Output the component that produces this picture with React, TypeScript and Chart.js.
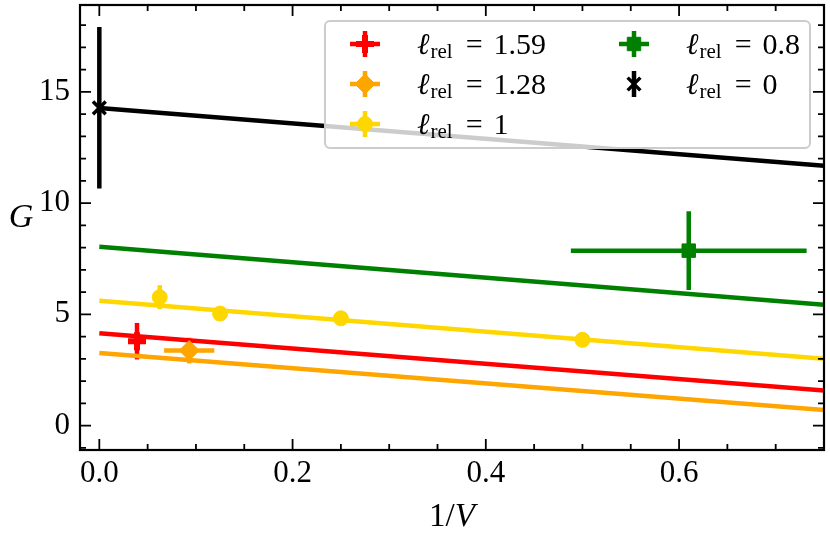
import { useEffect, useRef } from "react";
import { Chart, registerables } from "chart.js";
import { drawPoint } from "chart.js/helpers";

Chart.register(...registerables);

// axis ticks
const xMajorTicks = [0, 0.2, 0.4, 0.6];
const yMajorTicks = [0, 5, 10, 15];

// fitted lines (value at 1/V = 0 and at the right edge)
const fitX = [0, 0.75];
const fitRed = [4.15, 1.57];
const fitOrange = [3.26, 0.7];
const fitYellow = [5.61, 3.0];
const fitGreen = [8.04, 5.43];
const fitBlack = [14.27, 11.67];

// measured points with errors
const redX = [0.039];
const redY = [3.79];
const redXErr = [0.009];
const redYErr = [0.82];

const orangeX = [0.093];
const orangeY = [3.37];
const orangeXErr = [0.026];
const orangeYErr = [0.58];

const yellowX = [0.0625, 0.125, 0.25, 0.5];
const yellowY = [5.77, 5.03, 4.82, 3.85];
const yellowXErr = [0, 0, 0, 0];
const yellowYErr = [0.54, 0.1, 0.1, 0.1];

const greenX = [0.61];
const greenY = [7.86];
const greenXErr = [0.122];
const greenYErr = [1.77];

const blackX = [0];
const blackY = [14.28];
const blackYErr = [3.63];

const legendValues = ["1.59", "1.28", "1", "0.8", "0"];

const SERIF = "'Liberation Serif', 'DejaVu Serif', serif";
const RED = "#ff0000";
const ORANGE = "#ffa500";
const YELLOW = "#ffd700";
const GREEN = "#008000";
const BLACK = "#000000";

type Marker = { style: string; radius: number; border: number };

const markers: Marker[] = [
  { style: "cross", radius: 9, border: 6 },
  { style: "rectRot", radius: 10, border: 1 },
  { style: "circle", radius: 7.5, border: 1 },
  { style: "rect", radius: 9.5, border: 1 },
  { style: "crossRot", radius: 9, border: 3.5 },
];
const colors = [RED, ORANGE, YELLOW, GREEN, BLACK];

function toPoints(xs: number[], ys: number[]) {
  return xs.map((x, i) => ({ x, y: ys[i] }));
}

const errorBars = {
  id: "errorBars",
  beforeDatasetsDraw(chart: any) {
    const { ctx, scales } = chart;
    ctx.save();
    chart.data.datasets.forEach((ds: any) => {
      if (!ds.yErr) return;
      ctx.strokeStyle = ds.borderColor;
      ctx.lineWidth = 4.5;
      ds.data.forEach((p: any, j: number) => {
        const px = scales.x.getPixelForValue(p.x);
        const py = scales.y.getPixelForValue(p.y);
        const ye = ds.yErr[j];
        ctx.beginPath();
        ctx.moveTo(px, scales.y.getPixelForValue(p.y + ye));
        ctx.lineTo(px, scales.y.getPixelForValue(p.y - ye));
        ctx.stroke();
        if (ds.xErr && ds.xErr[j] > 0) {
          const xe = ds.xErr[j];
          ctx.beginPath();
          ctx.moveTo(scales.x.getPixelForValue(p.x - xe), py);
          ctx.lineTo(scales.x.getPixelForValue(p.x + xe), py);
          ctx.stroke();
        }
      });
    });
    ctx.restore();
  },
};

const frame = {
  id: "frame",
  afterDatasetsDraw(chart: any) {
    const { ctx, chartArea: a, scales } = chart;
    ctx.save();
    ctx.strokeStyle = "#000";
    ctx.lineWidth = 1.8;
    const tick = (v: number, len: number, axis: "x" | "y") => {
      ctx.beginPath();
      if (axis === "x") {
        const px = scales.x.getPixelForValue(v);
        ctx.moveTo(px, a.bottom);
        ctx.lineTo(px, a.bottom - len);
        ctx.moveTo(px, a.top);
        ctx.lineTo(px, a.top + len);
      } else {
        const py = scales.y.getPixelForValue(v);
        ctx.moveTo(a.left, py);
        ctx.lineTo(a.left + len, py);
        ctx.moveTo(a.right, py);
        ctx.lineTo(a.right - len, py);
      }
      ctx.stroke();
    };
    for (let i = 0; i <= 15; i++) tick(i * 0.05, i % 4 === 0 ? 11 : 6, "x");
    for (let v = -1; v <= 18; v++) tick(v, v % 5 === 0 ? 11 : 6, "y");
    ctx.lineWidth = 2.2;
    ctx.strokeRect(a.left, a.top, a.right - a.left, a.bottom - a.top);

    // axis titles
    ctx.fillStyle = "#000";
    ctx.textBaseline = "middle";
    ctx.textAlign = "center";
    ctx.font = `italic 34px ${SERIF}`;
    ctx.fillText("G", 21, 218);
    ctx.textAlign = "left";
    ctx.font = `33px ${SERIF}`;
    const w1 = ctx.measureText("1/").width;
    ctx.font = `italic 33px ${SERIF}`;
    const w2 = ctx.measureText("V").width;
    const sx = (a.left + a.right) / 2 - (w1 + w2) / 2;
    ctx.font = `33px ${SERIF}`;
    ctx.fillText("1/", sx, 517);
    ctx.font = `italic 33px ${SERIF}`;
    ctx.fillText("V", sx + w1, 517);
    ctx.restore();
  },
  afterDraw(chart: any) {
    const { ctx } = chart;
    ctx.save();
    ctx.beginPath();
    ctx.roundRect(325, 21, 485, 127, 5);
    ctx.fillStyle = "rgba(255,255,255,0.8)";
    ctx.fill();
    ctx.strokeStyle = "#cccccc";
    ctx.lineWidth = 2;
    ctx.stroke();

    const slots = [
      [365, 417, 44],
      [365, 417, 84],
      [365, 417, 124],
      [634, 686, 44],
      [634, 686, 84],
    ];
    legendValues.forEach((val, i) => {
      const [mx, tx, ry] = slots[i];
      const c = colors[i];
      ctx.strokeStyle = c;
      ctx.lineWidth = 4.5;
      ctx.beginPath();
      ctx.moveTo(mx, ry - 13);
      ctx.lineTo(mx, ry + 13);
      if (i !== 4) {
        ctx.moveTo(mx - 15, ry);
        ctx.lineTo(mx + 15, ry);
      }
      ctx.stroke();
      const m = markers[i];
      ctx.fillStyle = c;
      ctx.lineWidth = m.border;
      drawPoint(ctx, { pointStyle: m.style as any, radius: m.radius, rotation: 0, borderWidth: m.border }, mx, ry);

      ctx.fillStyle = "#000";
      ctx.textBaseline = "alphabetic";
      ctx.textAlign = "left";
      let x = tx;
      ctx.font = `italic 30px ${SERIF}`;
      ctx.fillText("\u2113", x, ry + 10);
      x += ctx.measureText("\u2113").width + 1;
      ctx.font = `21px ${SERIF}`;
      ctx.fillText("rel", x, ry + 14);
      x += ctx.measureText("rel").width + 13;
      ctx.font = `30px ${SERIF}`;
      ctx.fillText("=", x, ry + 10);
      x += ctx.measureText("=").width + 11;
      ctx.fillText(val, x, ry + 10);
    });
    ctx.restore();
  },
};

export default function App() {
  const canvasRef = useRef<HTMLCanvasElement | null>(null);
  const chartRef = useRef<Chart | null>(null);

  useEffect(() => {
    const ctx = canvasRef.current?.getContext("2d");
    if (!ctx) return;
    chartRef.current?.destroy();

    const fitLine = (ys: number[], color: string) => ({
      data: toPoints(fitX, ys),
      showLine: true,
      borderColor: color,
      borderWidth: 4.5,
      pointRadius: 0,
      fill: false,
    });
    const pointSet = (xs: number[], ys: number[], xe: number[] | null, ye: number[], i: number) => ({
      data: toPoints(xs, ys),
      showLine: false,
      backgroundColor: colors[i],
      borderColor: colors[i],
      pointStyle: markers[i].style,
      pointRadius: markers[i].radius,
      pointBorderWidth: markers[i].border,
      xErr: xe,
      yErr: ye,
    });

    chartRef.current = new Chart(ctx, {
      type: "scatter",
      data: {
        datasets: [
          pointSet(redX, redY, redXErr, redYErr, 0),
          pointSet(orangeX, orangeY, orangeXErr, orangeYErr, 1),
          pointSet(yellowX, yellowY, yellowXErr, yellowYErr, 2),
          pointSet(greenX, greenY, greenXErr, greenYErr, 3),
          pointSet(blackX, blackY, null, blackYErr, 4),
          fitLine(fitRed, RED),
          fitLine(fitOrange, ORANGE),
          fitLine(fitYellow, YELLOW),
          fitLine(fitGreen, GREEN),
          fitLine(fitBlack, BLACK),
        ] as any,
      },
      options: {
        animation: false,
        responsive: false,
        events: [],
        layout: { autoPadding: false, padding: { top: 5, right: 6, left: 0, bottom: 0 } },
        plugins: { legend: { display: false }, tooltip: { enabled: false } },
        scales: {
          x: {
            type: "linear",
            min: -0.02,
            max: 0.75,
            afterBuildTicks: (s: any) => {
              s.ticks = xMajorTicks.map((v) => ({ value: v }));
            },
            afterFit: (s: any) => {
              s.height = 90;
              s.paddingLeft = 0;
              s.paddingRight = 0;
            },
            grid: { display: false, drawTicks: false },
            border: { display: false },
            ticks: {
              color: "#000",
              padding: 5,
              autoSkip: false,
              maxRotation: 0,
              font: { family: SERIF, size: 31 },
              callback: (v: any) => Number(v).toFixed(1),
            },
          },
          y: {
            type: "linear",
            min: -1.1,
            max: 18.9,
            afterBuildTicks: (s: any) => {
              s.ticks = yMajorTicks.map((v) => ({ value: v }));
            },
            afterFit: (s: any) => {
              s.width = 80;
              s.paddingTop = 0;
              s.paddingBottom = 0;
            },
            grid: { display: false, drawTicks: false },
            border: { display: false },
            ticks: {
              color: "#000",
              padding: 10,
              font: { family: SERIF, size: 31 },
              callback: (v: any) => String(v),
            },
          },
        },
      },
      plugins: [errorBars, frame],
    });

    return () => {
      chartRef.current?.destroy();
      chartRef.current = null;
    };
  }, []);

  return (
    <div style={{ position: "absolute", left: 0, top: 0, width: 830, height: 540, background: "#fff" }}>
      <canvas ref={canvasRef} width={830} height={540} />
    </div>
  );
}
